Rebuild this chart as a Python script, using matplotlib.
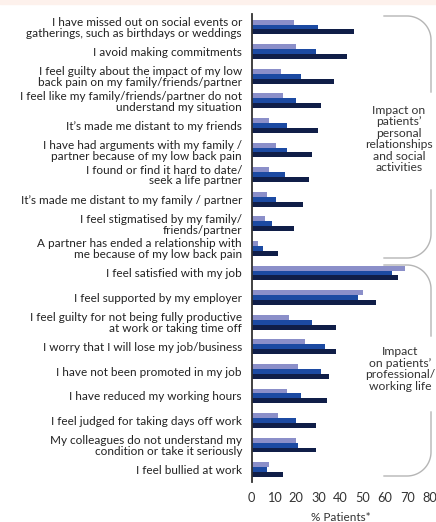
import numpy as np
import matplotlib
matplotlib.use("Agg")
import matplotlib.pyplot as plt
from matplotlib.lines import Line2D
from matplotlib.patches import Rectangle

plt.rcParams['font.family'] = ['Lato', 'DejaVu Sans']

categories = [
    "I have missed out on social events or\ngatherings, such as birthdays or weddings",
    "I avoid making commitments",
    "I feel guilty about the impact of my low\nback pain on my family/friends/partner",
    "I feel like my family/friends/partner do not\nunderstand my situation",
    "It\u2019s made me distant to my friends",
    "I have had arguments with my family /\npartner because of my low back pain",
    "I found or find it hard to date/\nseek a life partner",
    "It\u2019s made me distant to my family / partner",
    "I feel stigmatised by my family/\nfriends/partner",
    "A partner has ended a relationship with\nme because of my low back pain",
    "I feel satisfied with my job",
    "I feel supported by my employer",
    "I feel guilty for not being fully productive\nat work or taking time off",
    "I worry that I will lose my job/business",
    "I have not been promoted in my job",
    "I have reduced my working hours",
    "I feel judged for taking days off work",
    "My colleagues do not understand my\ncondition or take it seriously",
    "I feel bullied at work",
]
series_a = [19, 20, 13, 14, 8, 11, 8, 7, 6, 3, 69, 50, 17, 24, 21, 16, 12, 20, 8]
series_b = [30, 29, 22, 20, 16, 16, 15, 11, 9, 5, 63, 48, 27, 33, 31, 22, 20, 21, 7]
series_c = [46, 43, 37, 31, 30, 27, 26, 23, 19, 12, 66, 56, 38, 38, 35, 34, 29, 29, 14]
x_ticks = [0, 10, 20, 30, 40, 50, 60, 70, 80]
x_label = "% Patients*"
group_labels = ["Impact on\npatients\u2019\npersonal\nrelationships\nand social\nactivities",
                "Impact\non patients\u2019\nprofessional/\nworking life"]

colors = ["#8b8fc9", "#1c4aa2", "#101e48"]

W, H = 436, 522
fig = plt.figure(figsize=(W / 100, H / 100), dpi=100)
fig.patches.append(Rectangle((0, 1 - 4 / H), 1, 4 / H, transform=fig.transFigure,
                             color="#fdf1ec", zorder=0))

ax = fig.add_axes([251.7 / W, 1 - 482 / H, (429.5 - 251.7) / W, (482 - 14) / H])
y = np.arange(len(categories))
h = 0.2
for off, vals, c in zip([-h, 0, h], [series_a, series_b, series_c], colors):
    ax.barh(y + off, vals, height=h, color=c, linewidth=0)

ax.set_ylim(len(categories) - 0.5, -0.53)
ax.set_xlim(0, 80)
ax.set_yticks(y)
ax.set_yticklabels(categories, fontsize=8.5, color="#222222", linespacing=0.98)
ax.set_xticks(x_ticks)
ax.set_xticklabels([str(t) for t in x_ticks], fontsize=9.2, color="#333333")
ax.tick_params(axis='both', length=0)
ax.tick_params(axis='y', pad=7)
ax.tick_params(axis='x', pad=7)
ax.set_xlabel(x_label, fontsize=8.5, color="#333333", labelpad=6)
for s in ["top", "right", "bottom"]:
    ax.spines[s].set_visible(False)
ax.spines["left"].set_color("#333333")
ax.spines["left"].set_linewidth(1.3)
ax.patch.set_alpha(0)


def px(xp, yp):
    return np.asarray(xp) / W, 1 - np.asarray(yp) / H


def bracket(y_top, y_bot, gap_top, gap_bot, x0=384, x1=431, r=24):
    t = np.linspace(0, np.pi / 2, 30)
    xa = np.concatenate([[x0], x1 - r + r * np.sin(t), [x1]])
    ya = np.concatenate([[y_top], y_top + r - r * np.cos(t), [gap_top]])
    xb = np.concatenate([[x1], x1 - r + r * np.cos(t), [x0]])
    yb = np.concatenate([[gap_bot], y_bot - r + r * np.sin(t), [y_bot]])
    for xs, ys in [(xa, ya), (xb, yb)]:
        fx, fy = px(xs, ys)
        fig.add_artist(Line2D(fx, fy, transform=fig.transFigure, color="#b5b5b5",
                              lw=1.0, zorder=5))


bracket(16, 258, 92, 190)
bracket(265, 476, 336, 412)

tx, ty = px(399, 139)
fig.text(tx, ty, group_labels[0], ha="center", va="center", fontsize=8.7,
         color="#333333", linespacing=1.05, zorder=6)
tx, ty = px(400, 369)
fig.text(tx, ty, group_labels[1], ha="center", va="center", fontsize=8.7,
         color="#333333", linespacing=1.05, zorder=6)

fig.savefig("out.png", dpi=100)
